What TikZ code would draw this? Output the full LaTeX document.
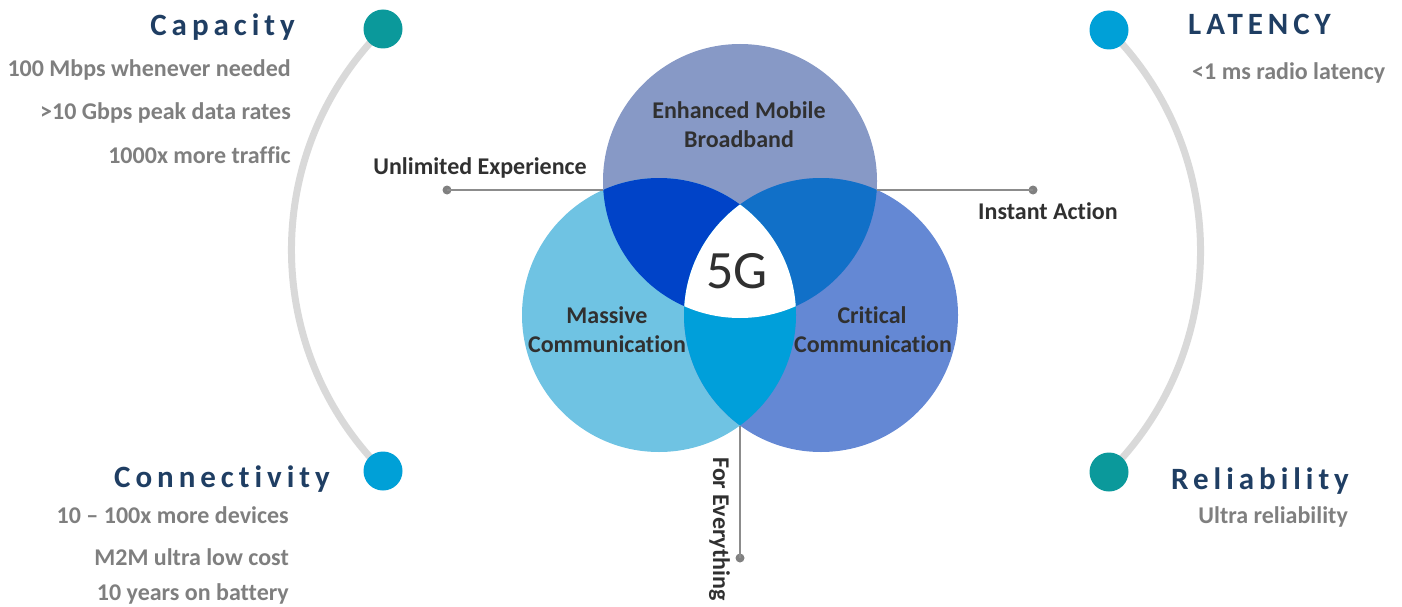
\documentclass[tikz,border=0pt]{standalone}
\usepackage{fontspec}
\setmainfont{Carlito}[Ligatures=NoCommon]
\definecolor{headc}{HTML}{1F3E63}
\definecolor{subc}{HTML}{7F7F7F}
\definecolor{labc}{HTML}{303030}
\definecolor{arcc}{HTML}{D9D9D9}
\definecolor{connc}{HTML}{8C8C8C}
\definecolor{dotc}{HTML}{808080}
\definecolor{tealc}{HTML}{0B999B}
\definecolor{bluec}{HTML}{00A0D7}
\definecolor{topc}{HTML}{8799C6}
\definecolor{leftc}{HTML}{6FC3E3}
\definecolor{rightc}{HTML}{6488D4}
\definecolor{tlc}{HTML}{0043C8}
\definecolor{trc}{HTML}{1170C8}
\definecolor{lrc}{HTML}{009FDA}
\newcommand\myheadfont{\fontsize{31}{36}\selectfont\bfseries\addfontfeature{LetterSpace=16}}
\newcommand\mysubfont{\fontsize{24}{28}\selectfont\bfseries}
\newcommand\mylabfont{\fontsize{24}{28}\selectfont\bfseries}
\begin{document}
\begin{tikzpicture}[x=1pt,y=-1pt,
  head/.style={font=\myheadfont, text=headc, inner sep=0},
  sub/.style={font=\mysubfont, text=subc, inner sep=0},
  lab/.style={font=\mylabfont, text=labc, inner sep=0},
  bigdot/.style={circle, minimum size=39pt, inner sep=0},
  smalldot/.style={circle, fill=dotc, minimum size=9pt, inner sep=0},
  arcline/.style={draw=arcc, line width=7pt},
  conn/.style={draw=connc, line width=1.3pt}]
\useasboundingbox (0,0) rectangle (1402,607);
% arcs and big dots
\coordinate (dTLc) at (383,29);
\coordinate (dBLc) at (383,471);
\coordinate (dTRc) at (1109,30);
\coordinate (dBRc) at (1109,472);
\draw[arcline] (dTLc) arc[start angle=135, end angle=225, radius=312.5pt];
\draw[arcline] (dTRc) arc[start angle=45, end angle=-45, radius=312.5pt];
\node[bigdot, fill=tealc] (dTL) at (dTLc) {};
\node[bigdot, fill=bluec] (dBL) at (dBLc) {};
\node[bigdot, fill=bluec] (dTR) at (dTRc) {};
\node[bigdot, fill=tealc] (dBR) at (dBRc) {};
% venn
\coordinate (T) at (740,181);
\coordinate (L) at (659,315);
\coordinate (R) at (821,315);
\def\rr{137pt}
\fill[topc] (T) circle (\rr);
\fill[leftc] (L) circle (\rr);
\fill[rightc] (R) circle (\rr);
\begin{scope}\clip (T) circle (\rr); \fill[tlc] (L) circle (\rr);\end{scope}
\begin{scope}\clip (T) circle (\rr); \fill[trc] (R) circle (\rr);\end{scope}
\begin{scope}\clip (L) circle (\rr); \fill[lrc] (R) circle (\rr);\end{scope}
\begin{scope}\clip (T) circle (\rr); \clip (L) circle (\rr); \fill[white] (R) circle (\rr);\end{scope}
% connectors
\coordinate (ixTL) at (603.3,190);
\coordinate (ixTR) at (876.7,190);
\coordinate (ixLR) at (740,425.5);
\node[smalldot] (dUE) at (447,190) {};
\node[smalldot] (dIA) at (1033,190) {};
\node[smalldot] (dFE) at (740,558) {};
\draw[conn] (dUE.center) -- (ixTL);
\draw[conn] (ixTR) -- (dIA.center);
\draw[conn] (ixLR) -- (dFE.center);
% venn labels
\node[lab, anchor=base] (emb1) at (739,118) {Enhanced Mobile};
\node[lab, anchor=base] (emb2) at (739,147) {Broadband};
\node[lab, anchor=base] (mc1) at (607,323) {Massive};
\node[lab, anchor=base] (mc2) at (607,352) {Communication};
\node[lab, anchor=base] (cc1) at (872,323) {Critical};
\node[lab, anchor=base] (cc2) at (873,352) {Communication};
\node[font=\fontsize{54}{60}\selectfont, text=labc, inner sep=0, anchor=base] (fg) at (737,288) {5G};
\node[lab, anchor=base east] (ue) at (587,174) {Unlimited Experience};
\node[lab, anchor=base west] (ia) at (978,219) {Instant Action};
\node[lab, rotate=-90, anchor=base] (fe) at (713,529) {For Everything};
% side texts
\node[head, anchor=base east] (cap) at (295,36) {Capacity};
\node[sub, anchor=base east] (c1) at (291,77) {100 Mbps whenever needed};
\node[sub, anchor=base east] (c2) at (291,120) {>10 Gbps peak data rates};
\node[sub, anchor=base east] (c3) at (291,163) {1000x more traffic};
\node[head, anchor=base east] (con) at (330,487) {Connectivity};
\node[sub, anchor=base east] (n1) at (289,523) {10 – 100x more devices};
\node[sub, anchor=base east] (n2) at (289,565) {M2M ultra low cost};
\node[sub, anchor=base east] (n3) at (289,600) {10 years on battery};
\node[head, anchor=base west] (lat) at (1188,35) {LATENCY};
\node[sub, anchor=base west] (l1) at (1192,80) {<1 ms radio latency};
\node[head, anchor=base west] (rel) at (1171,489) {Reliability};
\node[sub, anchor=base east] (r1) at (1348,523) {Ultra reliability};
\end{tikzpicture}
\end{document}
